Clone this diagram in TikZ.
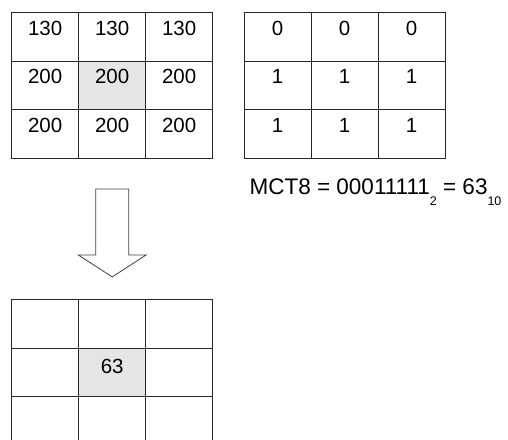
\documentclass[tikz,border=0pt]{standalone}
\usepackage{fontspec}
\setmainfont{Liberation Sans}
\usetikzlibrary{matrix,positioning,calc}
\tikzstyle{cell}=[draw=black!85,
                  line width=1pt,
                  minimum width=67pt,
                  minimum height=48.5pt,
                  inner sep=0pt,
                  text height=14.5pt,
                  text depth=18pt,
                  font=\fontsize{20.5}{24}\selectfont]
\tikzstyle{cellgrid}=[matrix of nodes,
                      nodes in empty cells,
                      inner sep=0pt,
                      column sep=-1pt,
                      row sep=-1pt,
                      nodes={cell}]
\tikzstyle{midcell}=[fill=gray!20]
\newcommand{\lowsub}[1]{\raisebox{-10.5pt}{\fontsize{12.5}{12.5}\selectfont #1}}

\begin{document}
\begin{tikzpicture}
  \useasboundingbox (0,0) rectangle (508pt,-439pt);
  \clip (0,0) rectangle (508pt,-439pt);
  \matrix[cellgrid, anchor=north west] (pix) at (11pt,-12pt) {
    130 & 130 & 130 \\
    200 & |[midcell]| 200 & 200 \\
    200 & 200 & 200 \\
  };
  \matrix[cellgrid, right=30pt of pix] (bits) {
    0 & 0 & 0 \\
    1 & 1 & 1 \\
    1 & 1 & 1 \\
  };
  \matrix[cellgrid, below=140pt of pix, nodes={text depth=12pt}] (mct) {
     & & \\
     & |[midcell]| 63 & \\
     & & \\
  };
  \node[anchor=base west, inner sep=0pt, font=\fontsize{22.5}{27}\selectfont] (code) at ($(bits.south west)+(6pt,-36pt)$) {MCT8 = 00011111\lowsub{2} = 63\lowsub{10}};
  % block arrow between the grids
  \coordinate (arrow top) at ($(pix.south)+(0,-30pt)$);
  \coordinate (arrow tip) at ($(mct.north)+(0,22pt)$);
  \draw[line width=0.8pt, draw=black!75] (arrow top) ++(-16.5pt,0) -- ++(0,-66pt) -- ++(-17.5pt,0) -- (arrow tip) -- ++(34pt,22pt) -- ++(-17.5pt,0) -- ++(0,66pt) -- cycle;
\end{tikzpicture}
\end{document}
